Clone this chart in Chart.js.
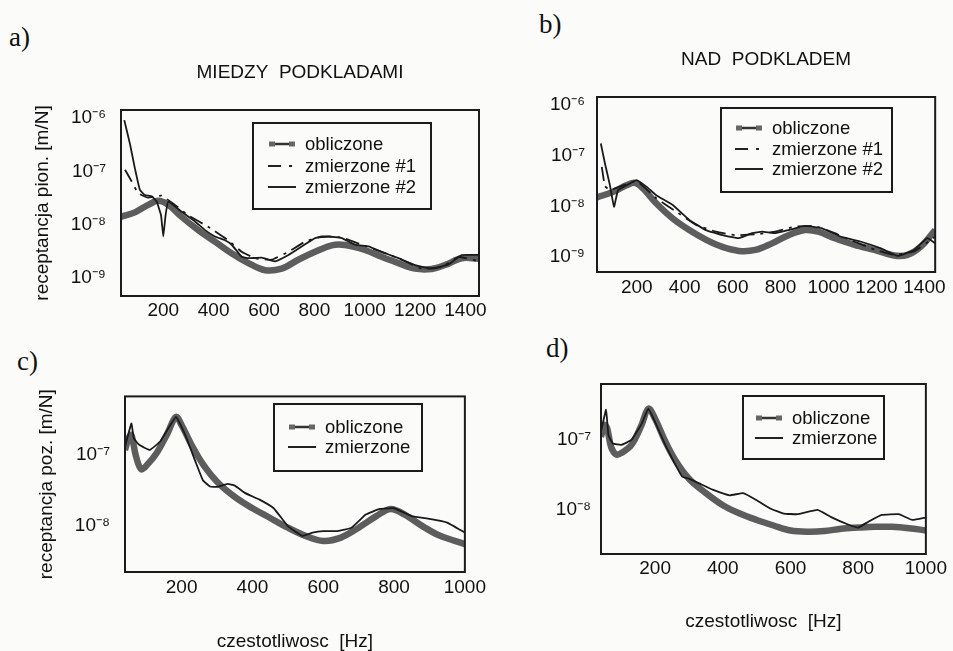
<!DOCTYPE html>
<html>
<head>
<meta charset="utf-8">
<title>receptancja</title>
<script src="https://cdn.jsdelivr.net/npm/chart.js"></script>
<style>
  body { margin:0; width:953px; height:651px; background:#fbfbf9; position:relative; overflow:hidden;
         font-family:"Liberation Sans", Arial, sans-serif; color:#111; }
  canvas { position:absolute; }
  .tag { position:absolute; font-family:"Liberation Serif", "Times New Roman", serif; font-size:27px; }
  .leg { position:absolute; border:2px solid #1b1b1b; }
  .leg .row { position:absolute; left:0; height:22px; font-size:18.5px; line-height:22px; white-space:nowrap; }
  .leg svg { position:absolute; top:0; }
  .leg span { position:absolute; top:0; }
</style>
</head>
<body>
<div class="tag" style="left:9px;top:22px">a)</div>
<div class="tag" style="left:539px;top:9px">b)</div>
<div class="tag" style="left:17px;top:346px">c)</div>
<div class="tag" style="left:546px;top:333px">d)</div>

<canvas id="chA" width="470" height="285" style="left:20px;top:50px"></canvas>
<canvas id="chB" width="430" height="270" style="left:520px;top:40px"></canvas>
<canvas id="chC" width="470" height="281" style="left:20px;top:370px"></canvas>
<canvas id="chD" width="430" height="291" style="left:520px;top:360px"></canvas>

<div class="leg" style="left:252px;top:122px;width:176px;height:84px">
  <div class="row" style="top:9px"><svg style="left:14px" width="28" height="22"><line x1="4" y1="11" x2="24" y2="11" stroke="#333" stroke-width="2.5"/><rect x="1" y="8.5" width="6" height="5" fill="#666"/><rect x="21" y="8.5" width="6" height="5" fill="#666"/></svg><span style="left:51px">obliczone</span></div>
  <div class="row" style="top:31px"><svg style="left:14px" width="28" height="22"><line x1="0" y1="11" x2="28" y2="11" stroke="#222" stroke-width="2" stroke-dasharray="13 8 3 20"/></svg><span style="left:51px">zmierzone #1</span></div>
  <div class="row" style="top:52px"><svg style="left:14px" width="28" height="22"><line x1="0" y1="11" x2="28" y2="11" stroke="#222" stroke-width="2"/></svg><span style="left:51px">zmierzone #2</span></div>
</div>
<div class="leg" style="left:720px;top:107px;width:169px;height:82px">
  <div class="row" style="top:8px"><svg style="left:13px" width="28" height="22"><line x1="4" y1="11" x2="24" y2="11" stroke="#333" stroke-width="2.5"/><rect x="1" y="8.5" width="6" height="5" fill="#666"/><rect x="21" y="8.5" width="6" height="5" fill="#666"/></svg><span style="left:50px">obliczone</span></div>
  <div class="row" style="top:29px"><svg style="left:13px" width="28" height="22"><line x1="0" y1="11" x2="28" y2="11" stroke="#222" stroke-width="2" stroke-dasharray="13 8 3 20"/></svg><span style="left:50px">zmierzone #1</span></div>
  <div class="row" style="top:49px"><svg style="left:13px" width="28" height="22"><line x1="0" y1="11" x2="28" y2="11" stroke="#222" stroke-width="2"/></svg><span style="left:50px">zmierzone #2</span></div>
</div>
<div class="leg" style="left:273px;top:403px;width:146px;height:65px">
  <div class="row" style="top:11px"><svg style="left:13px" width="28" height="22"><line x1="4" y1="11" x2="24" y2="11" stroke="#333" stroke-width="2.5"/><rect x="1" y="8.5" width="6" height="5" fill="#666"/><rect x="21" y="8.5" width="6" height="5" fill="#666"/></svg><span style="left:50px">obliczone</span></div>
  <div class="row" style="top:31px"><svg style="left:13px" width="28" height="22"><line x1="0" y1="11" x2="28" y2="11" stroke="#222" stroke-width="2"/></svg><span style="left:50px">zmierzone</span></div>
</div>
<div class="leg" style="left:742px;top:395px;width:139px;height:61px">
  <div class="row" style="top:10px"><svg style="left:11px" width="28" height="22"><line x1="4" y1="11" x2="24" y2="11" stroke="#333" stroke-width="2.5"/><rect x="1" y="8.5" width="6" height="5" fill="#666"/><rect x="21" y="8.5" width="6" height="5" fill="#666"/></svg><span style="left:48px">obliczone</span></div>
  <div class="row" style="top:30px"><svg style="left:11px" width="28" height="22"><line x1="0" y1="11" x2="28" y2="11" stroke="#222" stroke-width="2"/></svg><span style="left:48px">zmierzone</span></div>
</div>

<script>
// a) miedzy podkladami - receptancja pionowa
const freqCalcA = [32,87,140,180,220,273,339,405,471,538,604,670,736,803,869,922,1001,1067,1134,1200,1266,1319,1385,1452];
const calcA = [1.4e-8,1.7e-8,2.35e-8,2.8e-8,2.35e-8,1.4e-8,7.9e-9,4.8e-9,2.9e-9,1.9e-9,1.4e-9,1.5e-9,2.2e-9,3.1e-9,4.1e-9,4.15e-9,3.35e-9,2.5e-9,1.9e-9,1.5e-9,1.48e-9,1.75e-9,2.35e-9,2.3e-9];
const freqMeas1A = [48,74,100,140,193,246,299,378,458,511,564,630,697,763,830,909,988,1067,1147,1226,1306,1372,1452];
const meas1A = [1.07e-7,6.5e-8,3.9e-8,3.2e-8,3.5e-8,2.35e-8,1.5e-8,9.1e-9,5.1e-9,3.1e-9,2.35e-9,2.2e-9,3.1e-9,4.8e-9,6.0e-9,5.75e-9,4.2e-9,3.1e-9,2.2e-9,1.5e-9,1.6e-9,2.5e-9,2.05e-9];
const freqMeas2A = [45,68,87,107,127,154,174,191,200,209,220,273,326,366,405,445,472,511,538,591,644,697,750,803,856,909,962,1015,1067,1134,1200,1266,1333,1385,1452];
const meas2A = [9.1e-7,3.2e-7,1.15e-7,4.5e-8,3.6e-8,3.4e-8,2.7e-8,1.5e-8,6.0e-9,1.5e-8,2.7e-8,1.74e-8,1.15e-8,7.9e-9,6.0e-9,5.1e-9,4.2e-9,2.5e-9,2.35e-9,2.4e-9,2.05e-9,2.7e-9,3.9e-9,5.6e-9,6.0e-9,5.6e-9,4.2e-9,3.9e-9,3.1e-9,2.35e-9,1.75e-9,1.5e-9,1.8e-9,2.7e-9,2.7e-9];

// b) nad podkladem - receptancja pionowa
const freqCalcB = [34,102,157,192,226,281,350,419,488,557,626,695,764,833,902,957,1026,1109,1192,1274,1329,1384,1445];
const calcB = [1.5e-8,1.95e-8,2.6e-8,2.9e-8,2.25e-8,1.15e-8,5.75e-9,3.4e-9,2.2e-9,1.58e-9,1.32e-9,1.38e-9,1.86e-9,2.7e-9,3.4e-9,3.16e-9,2.35e-9,1.74e-9,1.38e-9,1.07e-9,1.1e-9,1.58e-9,3.4e-9];
const freqMeas1B = [54,67,88,143,199,281,364,447,530,612,695,778,860,943,1026,1109,1192,1274,1357,1445];
const meas1B = [6.0e-8,2.5e-8,2.1e-8,2.6e-8,3.16e-8,1.45e-8,7.9e-9,4.3e-9,3.16e-9,2.7e-9,2.8e-9,3.16e-9,4.0e-9,4.1e-9,2.95e-9,2.0e-9,1.41e-9,1.1e-9,1.29e-9,2.5e-9];
const freqMeas2B = [50,67,88,105,122,157,199,240,281,350,419,488,557,626,681,723,778,833,902,971,1053,1136,1219,1288,1357,1412,1445];
const meas2B = [1.74e-7,7.1e-8,2.6e-8,9.8e-9,2.1e-8,2.6e-8,3.3e-8,2.45e-8,1.66e-8,1.06e-8,5.4e-9,3.4e-9,2.7e-9,2.35e-9,2.95e-9,3.16e-9,2.95e-9,3.4e-9,4.1e-9,3.7e-9,2.5e-9,2.0e-9,1.48e-9,1.05e-9,1.38e-9,2.35e-9,1.86e-9];

// c) miedzy podkladami - receptancja pozioma
const freqCalcC = [40,50,58,70,85,100,130,160,184,200,230,260,300,350,400,450,500,550,600,650,700,750,790,830,880,930,1000];
const calcC = [1.17e-7,1.7e-7,1.9e-7,1.0e-7,6.3e-8,7.0e-8,1.07e-7,2.0e-7,3.4e-7,2.6e-7,1.32e-7,7.4e-8,4.2e-8,2.57e-8,1.78e-8,1.3e-8,9.5e-9,7.3e-9,6.2e-9,6.9e-9,9.5e-9,1.38e-8,1.74e-8,1.45e-8,1.0e-8,7.3e-9,5.6e-9];
const freqMeasC = [40,58,65,80,110,140,184,210,240,260,280,300,330,350,380,420,460,500,540,570,600,640,680,720,760,800,850,900,950,1000];
const measC = [1.29e-7,2.75e-7,1.7e-7,1.38e-7,1.17e-7,1.55e-7,3.4e-7,1.9e-7,7.8e-8,4.4e-8,3.6e-8,3.55e-8,3.9e-8,3.7e-8,2.9e-8,2.35e-8,1.78e-8,1.0e-8,7.3e-9,8.1e-9,8.5e-9,8.5e-9,9.5e-9,1.45e-8,1.74e-8,1.78e-8,1.38e-8,1.26e-8,1.12e-8,8.1e-9];

// d) nad podkladem - receptancja pozioma
const freqCalcD = [40,50,58,70,85,100,130,160,180,200,230,260,300,350,400,450,500,550,600,650,700,750,800,850,900,950,1000];
const calcD = [1.11e-7,1.64e-7,1.48e-7,7.9e-8,6.2e-8,6.5e-8,8.5e-8,1.64e-7,2.8e-7,2.0e-7,9.5e-8,5.1e-8,2.8e-8,1.74e-8,1.17e-8,8.9e-9,7.2e-9,6.0e-9,5.1e-9,4.9e-9,5.0e-9,5.4e-9,5.6e-9,5.75e-9,5.75e-9,5.5e-9,5.1e-9];
const freqMeasD = [40,55,62,75,100,130,160,180,200,230,260,280,300,330,370,420,460,500,540,580,620,680,720,770,800,830,870,920,960,1000];
const measD = [1.32e-7,2.7e-7,1.17e-7,8.9e-8,8.5e-8,1.0e-7,1.7e-7,2.8e-7,1.8e-7,8.5e-8,4.4e-8,3.0e-8,2.8e-8,2.4e-8,1.95e-8,1.62e-8,1.74e-8,1.38e-8,1.05e-8,8.9e-9,8.7e-9,1.0e-8,7.9e-9,6.2e-9,5.6e-9,6.8e-9,8.5e-9,8.7e-9,7.2e-9,7.8e-9];

// axis ticks
const xTicksTop = [200,400,600,800,1000,1200,1400];
const xTicksBottom = [200,400,600,800,1000];
const yTicksTop = [1e-9,1e-8,1e-7,1e-6];
const yLabelsTop = ['10\u207B\u2079','10\u207B\u2078','10\u207B\u2077','10\u207B\u2076'];
const yTicksBottom = [1e-8,1e-7];
const yLabelsBottom = ['10\u207B\u2078','10\u207B\u2077'];

Chart.defaults.font.family = '"Liberation Sans", Arial, sans-serif';
Chart.defaults.font.size = 19;
Chart.defaults.color = '#111';

const pts = (xs, ys) => xs.map((x, i) => ({ x: x, y: ys[i] }));

const frame = {
  id: 'frame',
  afterDatasetsDraw(c) {
    const a = c.chartArea, ctx = c.ctx;
    ctx.save();
    ctx.strokeStyle = '#1b1b1b';
    ctx.lineWidth = 2;
    ctx.strokeRect(a.left, a.top, a.right - a.left, a.bottom - a.top);
    ctx.restore();
  }
};

function calcSet(data) {
  return { data: data, borderColor: '#5d5d5d', borderWidth: 6.5, tension: 0.35, pointRadius: 0, order: 3, clip: 0 };
}
function measSet(data, dash) {
  return { data: data, borderColor: '#1a1a1a', borderWidth: 1.8, tension: 0.1, pointRadius: 0, order: 1, clip: 0, borderDash: dash || [] };
}

function makeChart(id, o) {
  new Chart(document.getElementById(id), {
    type: 'line',
    data: { datasets: o.datasets },
    plugins: [frame],
    options: {
      responsive: false,
      animation: false,
      devicePixelRatio: 1,
      layout: { padding: { top: o.padTop || 0, right: o.padRight, bottom: 0, left: 0 } },
      plugins: {
        legend: { display: false },
        tooltip: { enabled: false },
        title: o.title ? { display: true, text: o.title, fullSize: false,
          font: { size: 19, weight: 'normal', lineHeight: 1.2 }, color: '#111', padding: o.titlePad } : { display: false }
      },
      scales: {
        x: {
          type: 'linear', min: o.xMin, max: o.xMax,
          grid: { display: false, drawTicks: false }, border: { display: false },
          ticks: { padding: o.xPad, autoSkip: false, maxRotation: 0, callback: v => String(v) },
          afterBuildTicks: s => { s.ticks = o.xTicks.map(v => ({ value: v })); },
          afterFit: s => { s.height = o.xHeight; },
          title: o.xTitle ? { display: true, text: o.xTitle, font: { size: 19, lineHeight: o.xTitleLH },
            padding: { top: 0, bottom: o.xTitleBottom } } : { display: false }
        },
        y: {
          type: 'logarithmic', min: o.yMin, max: o.yMax,
          grid: { display: false, drawTicks: false }, border: { display: false },
          ticks: { padding: o.yPad, autoSkip: false, callback: (v, i) => o.yLabels[i] },
          afterBuildTicks: s => { s.ticks = o.yTicks.map(v => ({ value: v })); },
          afterFit: s => { s.width = o.yWidth; },
          title: o.yTitle ? { display: true, text: o.yTitle, font: { size: 19, lineHeight: 1.2 },
            padding: { top: o.yTitleTop, bottom: 0 } } : { display: false }
        }
      }
    }
  });
}

makeChart('chA', {
  datasets: [calcSet(pts(freqCalcA, calcA)), measSet(pts(freqMeas1A, meas1A), [14, 6, 3, 6]), measSet(pts(freqMeas2A, meas2A))],
  title: 'MIEDZY  PODKLADAMI', titlePad: { top: 11.6, bottom: 25.6 },
  padRight: 11, xMin: 32, xMax: 1454, xTicks: xTicksTop, xPad: 3, xHeight: 39,
  yMin: 4.6e-10, yMax: 1.41e-6, yTicks: yTicksTop, yLabels: yLabelsTop, yPad: 15, yWidth: 101,
  yTitle: 'receptancja pion. [m/N]', yTitleTop: 11.6
});

makeChart('chB', {
  datasets: [calcSet(pts(freqCalcB, calcB)), measSet(pts(freqMeas1B, meas1B), [14, 6, 3, 6]), measSet(pts(freqMeas2B, meas2B))],
  title: 'NAD  PODKLADEM', titlePad: { top: 8.6, bottom: 25.6 },
  padRight: 12, xMin: 34, xMax: 1445, xTicks: xTicksTop, xPad: 4, xHeight: 38,
  yMin: 5.06e-10, yMax: 1.44e-6, yTicks: yTicksTop, yLabels: yLabelsTop, yPad: 12, yWidth: 77
});

makeChart('chC', {
  datasets: [calcSet(pts(freqCalcC, calcC)), measSet(pts(freqMeasC, measC))],
  padTop: 22, padRight: 18, xMin: 40, xMax: 1000, xTicks: xTicksBottom, xPad: 4, xHeight: 79,
  xTitle: 'czestotliwosc  [Hz]', xTitleLH: 1, xTitleBottom: 0,
  yMin: 2.27e-9, yMax: 6.6e-7, yTicks: yTicksBottom, yLabels: yLabelsBottom, yPad: 15, yWidth: 105,
  yTitle: 'receptancja poz. [m/N]', yTitleTop: 15.6
});

makeChart('chD', {
  datasets: [calcSet(pts(freqCalcD, calcD)), measSet(pts(freqMeasD, measD))],
  padTop: 24, padRight: 18, xMin: 40, xMax: 1000, xTicks: xTicksBottom, xPad: 3, xHeight: 97,
  xTitle: 'czestotliwosc  [Hz]', xTitleLH: 1.2, xTitleBottom: 17.6,
  yMin: 2.35e-9, yMax: 6.3e-7, yTicks: yTicksBottom, yLabels: yLabelsBottom, yPad: 10, yWidth: 81
});
</script>
</body>
</html>
